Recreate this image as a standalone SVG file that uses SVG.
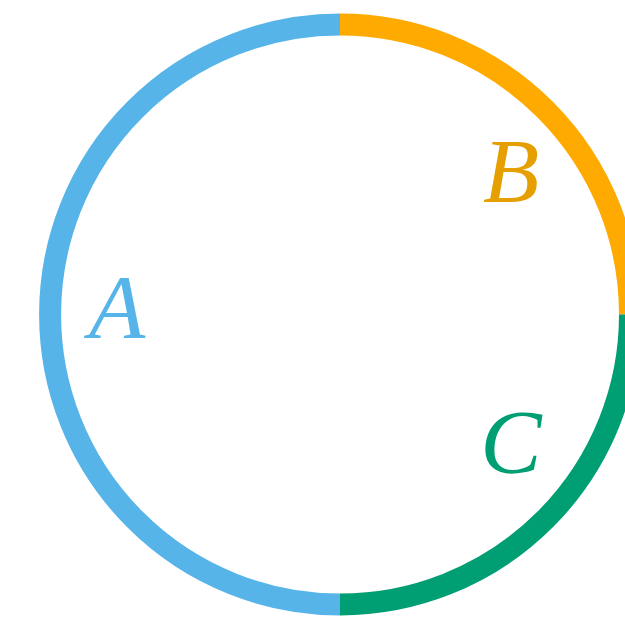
<svg xmlns="http://www.w3.org/2000/svg" width="625" height="619" viewBox="0 0 625 619">
<style>
.arc{fill:none;stroke-width:22}
.lbl{font-family:"Liberation Serif","DejaVu Serif",serif;font-style:italic;font-size:92px;text-anchor:middle}
</style>
<rect width="625" height="619" fill="#ffffff"/>
<g id="arcs">
<path id="arcA" class="arc" stroke="#56B4E9" d="M340,24.5 A290,290 0 0 0 340,604.5"/>
<path id="arcB" class="arc" stroke="#FFAA00" d="M340,24.5 A290,290 0 0 1 630,314.5"/>
<path id="arcC" class="arc" stroke="#009E73" d="M630,314.5 A290,290 0 0 1 340,604.5"/>
</g>
<g id="labels">
<text id="A" class="lbl" x="117" y="338" fill="#56B4E9">A</text>
<text id="B" class="lbl" x="511" y="202" fill="#E69F00">B</text>
<text id="C" class="lbl" x="511" y="473" fill="#009E73">C</text>
</g>
</svg>
